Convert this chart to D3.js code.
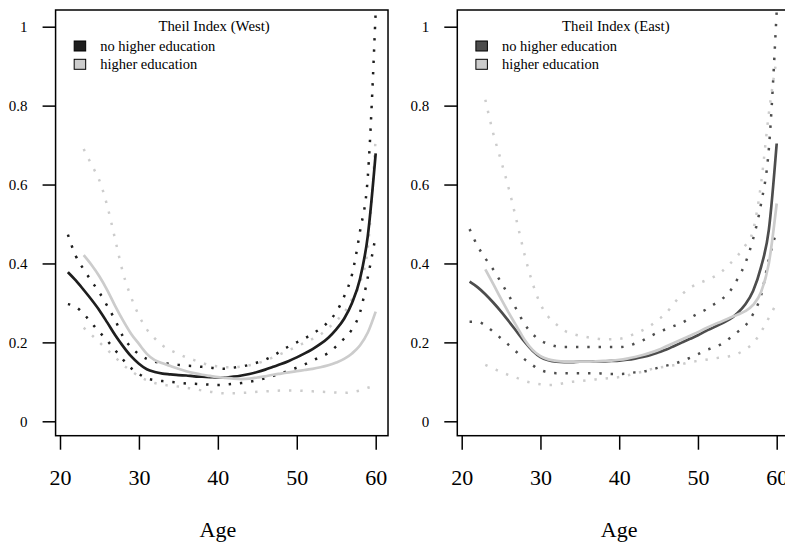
<!DOCTYPE html>
<html><head><meta charset="utf-8">
<script src="https://cdn.jsdelivr.net/npm/d3@7/dist/d3.min.js"></script>
<style>
body{margin:0;background:#fff}
svg{display:block}
text{font-family:"Liberation Serif","Times New Roman",Times,serif;fill:#000}
</style>
</head><body>
<svg id="chart" width="785" height="542"></svg>
<script>
// ---------- data ----------
const agesNoHigher = [21,22,23,24,25,26,27,28,29,30,31,32,33,34,35,36,37,38,39,40,41,42,43,44,45,46,47,48,49,50,51,52,53,54,55,56,57,58,59,60];
const agesHigher   = [23,24,25,26,27,28,29,30,31,32,33,34,35,36,37,38,39,40,41,42,43,44,45,46,47,48,49,50,51,52,53,54,55,56,57,58,59,60];

const xTicks = [20,30,40,50,60];
const yTicks = [0,0.2,0.4,0.6,0.8,1];
const yTickLabels = ["0","0.2","0.4","0.6","0.8","1"];
const panelTitles = ["Theil Index (West)","Theil Index (East)"];
const legendLabels = ["no higher education","higher education"];
const xLabel = "Age";

// West, no higher education
const westNoMean  = [0.378,0.357,0.333,0.308,0.281,0.250,0.218,0.190,0.165,0.146, 0.132,0.125,0.121,0.119,0.117,0.116,0.114,0.113,0.112,0.111, 0.111,0.113,0.116,0.120,0.125,0.131,0.138,0.145,0.153,0.162, 0.172,0.183,0.196,0.212,0.233,0.260,0.300,0.360,0.470,0.679];
const westNoUpper = [0.473,0.419,0.385,0.355,0.326,0.292,0.256,0.214,0.188,0.170, 0.158,0.151,0.148,0.145,0.143,0.141,0.140,0.138,0.136,0.134, 0.133,0.136,0.139,0.143,0.149,0.156,0.166,0.178,0.190,0.200, 0.210,0.222,0.235,0.252,0.277,0.316,0.372,0.480,0.620,1.040];
const westNoLower = [0.297,0.290,0.272,0.249,0.226,0.204,0.180,0.156,0.135,0.120, 0.109,0.104,0.102,0.100,0.098,0.096,0.095,0.094,0.093,0.092, 0.093,0.095,0.097,0.100,0.104,0.109,0.115,0.121,0.129,0.136, 0.144,0.154,0.163,0.173,0.190,0.210,0.233,0.275,0.365,0.470];
// West, higher education
const westHiMean  = [0.421,0.396,0.367,0.332,0.292,0.255,0.222,0.196, 0.171,0.155,0.147,0.140,0.133,0.127,0.122,0.118,0.115,0.112, 0.110,0.108,0.107,0.108,0.111,0.114,0.118,0.121,0.124,0.127, 0.130,0.133,0.137,0.142,0.149,0.158,0.172,0.192,0.225,0.278];
const westHiUpper = [0.690,0.650,0.610,0.545,0.460,0.375,0.315,0.268, 0.233,0.210,0.192,0.180,0.171,0.162,0.155,0.148,0.142,0.139, 0.137,0.137,0.139,0.142,0.147,0.154,0.162,0.171,0.180,0.190, 0.199,0.209,0.220,0.236,0.255,0.275,0.310,0.350,0.440,0.720];
const westHiLower = [0.237,0.219,0.200,0.181,0.162,0.143,0.128,0.114, 0.104,0.097,0.093,0.090,0.088,0.085,0.082,0.078,0.075,0.072, 0.071,0.071,0.072,0.073,0.075,0.076,0.077,0.078,0.078,0.078, 0.077,0.076,0.075,0.074,0.073,0.072,0.074,0.078,0.085,0.090];
// East, no higher education
const eastNoMean  = [0.354,0.340,0.322,0.301,0.278,0.253,0.227,0.201,0.179,0.163, 0.155,0.151,0.150,0.150,0.151,0.151,0.152,0.152,0.153,0.154, 0.156,0.159,0.163,0.168,0.175,0.182,0.191,0.200,0.209,0.218, 0.229,0.238,0.248,0.258,0.274,0.296,0.330,0.390,0.485,0.704];
const eastNoUpper = [0.487,0.445,0.413,0.385,0.352,0.318,0.282,0.246,0.221,0.205, 0.196,0.190,0.188,0.188,0.188,0.188,0.188,0.188,0.188,0.188, 0.190,0.197,0.205,0.216,0.226,0.234,0.242,0.250,0.262,0.273, 0.283,0.296,0.309,0.328,0.360,0.400,0.462,0.550,0.690,1.040];
const eastNoLower = [0.252,0.252,0.243,0.227,0.210,0.193,0.175,0.157,0.142,0.130, 0.124,0.122,0.122,0.122,0.122,0.122,0.122,0.121,0.120,0.120, 0.121,0.124,0.126,0.130,0.136,0.141,0.146,0.153,0.161,0.170, 0.180,0.187,0.196,0.210,0.226,0.242,0.272,0.318,0.410,0.483];
// East, higher education
const eastHiMean  = [0.385,0.348,0.310,0.274,0.240,0.206,0.181,0.165, 0.157,0.153,0.151,0.151,0.151,0.151,0.152,0.153,0.154,0.156, 0.159,0.163,0.168,0.174,0.181,0.190,0.199,0.208,0.217,0.226, 0.236,0.245,0.253,0.262,0.270,0.279,0.295,0.327,0.400,0.552];
const eastHiUpper = [0.815,0.730,0.660,0.588,0.506,0.421,0.350,0.297, 0.265,0.246,0.230,0.222,0.217,0.213,0.210,0.208,0.208,0.209, 0.214,0.222,0.231,0.243,0.258,0.275,0.300,0.322,0.338,0.349, 0.357,0.366,0.379,0.398,0.419,0.445,0.484,0.600,0.780,0.920];
const eastHiLower = [0.143,0.134,0.125,0.117,0.110,0.102,0.097,0.094, 0.092,0.093,0.097,0.100,0.102,0.104,0.106,0.108,0.110,0.112, 0.116,0.121,0.126,0.132,0.136,0.139,0.142,0.145,0.150,0.153, 0.156,0.159,0.162,0.165,0.171,0.182,0.198,0.226,0.262,0.300];

// ---------- drawing ----------
const svg = d3.select("#chart");
const lightCol = "#cccccc";

const panels = [
  {title: panelTitles[0], x0: 60, x1: 375.7, darkCol: "#1e1e1e",
   series: [
     {ages: agesNoHigher, mean: westNoMean, up: westNoUpper, lo: westNoLower, dark: true},
     {ages: agesHigher, mean: westHiMean, up: westHiUpper, lo: westHiLower, dark: false}]},
  {title: panelTitles[1], x0: 461.7, x1: 776.7, darkCol: "#4d4d4d",
   series: [
     {ages: agesNoHigher, mean: eastNoMean, up: eastNoUpper, lo: eastNoLower, dark: true},
     {ages: agesHigher, mean: eastHiMean, up: eastHiUpper, lo: eastHiLower, dark: false}]}
];

const y = d3.scaleLinear().domain([0,1]).range([421.3, 26.7]);
const boxTop = 10, boxBottom = 435.7;

panels.forEach((p, i) => {
  const x = d3.scaleLinear().domain([20,60]).range([p.x0, p.x1]);
  const pad = (x(60) - x(21)) * 0.04;
  const bx0 = x(21) - pad, bx1 = x(60) + pad;
  const g = svg.append("g");

  const clipId = "clip" + i;
  svg.append("clipPath").attr("id", clipId)
    .append("rect").attr("x", bx0).attr("y", boxTop).attr("width", bx1 - bx0).attr("height", boxBottom - boxTop);

  const plot = g.append("g").attr("clip-path", `url(#${clipId})`);

  p.series.forEach(s => {
    const col = s.dark ? p.darkCol : lightCol;
    const line = d3.line().x((d, k) => x(s.ages[k])).y(d => y(d)).curve(d3.curveMonotoneX);
    [s.up, s.lo].forEach(arr => {
      plot.append("path").attr("d", line(arr))
        .attr("fill", "none").attr("stroke", col)
        .attr("stroke-width", 2.5).attr("stroke-dasharray", "2.4,8.9");
    });
  });
  p.series.forEach(s => {
    const col = s.dark ? p.darkCol : lightCol;
    const line = d3.line().x((d, k) => x(s.ages[k])).y(d => y(d)).curve(d3.curveMonotoneX);
    plot.append("path").attr("d", line(s.mean))
      .attr("fill", "none").attr("stroke", col).attr("stroke-width", 2.7)
      .attr("stroke-linejoin", "round");
  });

  // box
  g.append("rect").attr("x", bx0).attr("y", boxTop).attr("width", bx1 - bx0).attr("height", boxBottom - boxTop)
    .attr("fill", "none").attr("stroke", "#000").attr("stroke-width", 1.5);

  // y axis
  const ya = g.append("g").attr("transform", `translate(${bx0},0)`)
    .call(d3.axisLeft(y).tickValues(yTicks).tickFormat((d, k) => yTickLabels[k]).tickSize(13).tickPadding(15));
  ya.select(".domain").remove();
  ya.selectAll(".tick line").attr("stroke", "#000").attr("stroke-width", 1.5);
  ya.selectAll(".tick text").attr("font-size", 15).attr("dy", "0.34em");

  // x axis
  const xa = g.append("g").attr("transform", `translate(0,${boxBottom})`)
    .call(d3.axisBottom(x).tickValues(xTicks).tickFormat(d3.format("d")).tickSize(14).tickPadding(0));
  xa.select(".domain").remove();
  xa.selectAll(".tick line").attr("stroke", "#000").attr("stroke-width", 1.5);
  xa.selectAll(".tick text").attr("font-size", 22).attr("y", 49.3).attr("dy", null);

  g.append("text").attr("x", (x(20) + x(60)) / 2).attr("y", 537)
    .attr("text-anchor", "middle").attr("font-size", 22).text(xLabel);

  // legend
  const lx = bx0 + 18.6;
  g.append("text").attr("x", bx0 + 158.5).attr("y", 30.5).attr("text-anchor", "middle")
    .attr("font-size", 14.8).text(p.title);
  [p.darkCol, lightCol].forEach((c, k) => {
    const cy = 46 + k * 18.3;
    g.append("rect").attr("x", lx).attr("y", cy - 5).attr("width", 11.5).attr("height", 10)
      .attr("fill", c).attr("stroke", "#000").attr("stroke-width", 1);
    g.append("text").attr("x", lx + 26).attr("y", cy + 5).attr("font-size", 14.5).text(legendLabels[k]);
  });
});
</script>
</body></html>
